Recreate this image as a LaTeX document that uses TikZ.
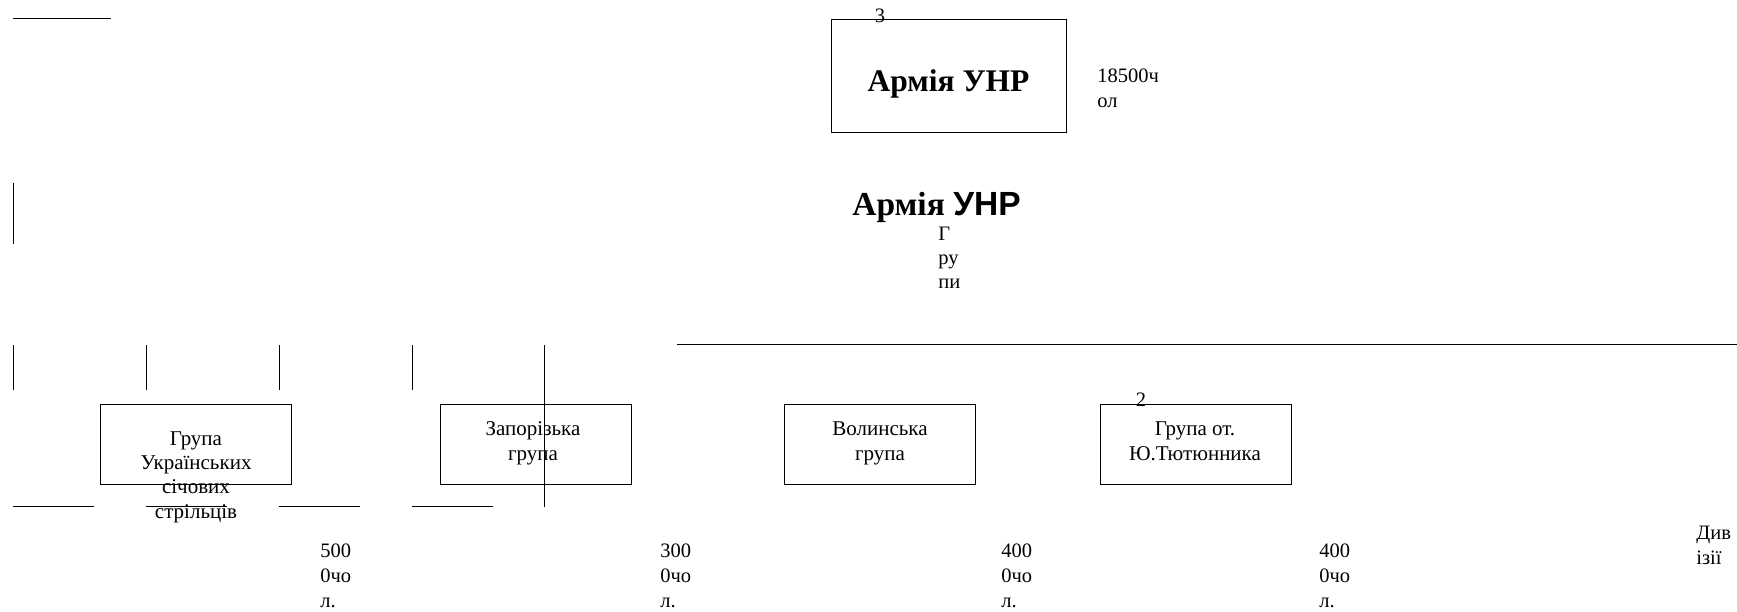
\documentclass[tikz,border=0pt]{standalone}
\usepackage{fontspec}
\setmainfont{Liberation Serif}
\newfontfamily\sansfnt{Liberation Sans}

\tikzset{
    grp/.style={draw, line width=0.8pt, minimum width=191pt, minimum height=80pt, inner sep=0pt},
    grptxt/.style={anchor=north, align=center, inner sep=0pt, font=\fontsize{21}{24.4}\selectfont},
    numtxt/.style={anchor=north west, align=left, inner sep=0pt, font=\fontsize{20.5}{25}\selectfont},
    plain/.style={inner sep=0pt, font=\fontsize{20.5}{24.4}\selectfont}
}

\begin{document}
\begin{tikzpicture}[x=1pt, y=-1pt, line width=0.8pt]
    \useasboundingbox (0,0) rectangle (1737,612);

    % Rysky i linii
    \draw (13,18) -- (111,18);
    \draw (13,183) -- (13,244);
    \draw (677,344) -- (1737,344);
    \foreach \x in {13,146,279,412} {
        \draw (\x,345) -- (\x,390);
        \draw (\x,506) -- (\x+81,506);
    }
    \draw (544,345) -- (544,507);

    % Verkhnii blok
    \node[draw, line width=0.8pt, minimum width=235pt, minimum height=113pt, inner sep=0pt] (armybox) at (948.5,75.5) {};
    \node[anchor=base, inner sep=0pt, font=\fontsize{31.5}{36}\selectfont\bfseries] (armytitle) at (948.5,92) {Армія УНР};
    \node[plain] (n3) at (880,16) {3};
    \node[numtxt, font=\fontsize{20.5}{25}\selectfont] (armynum) at (1097,68) {18500ч\\ол};

    % Druhyi zaholovok
    \node[anchor=base, inner sep=0pt, font=\fontsize{33.5}{38}\selectfont\bfseries] (title) at (936.5,216) {Армія {\sansfnt УНР}};
    \node[numtxt, font=\fontsize{20.5}{24}\selectfont] (grupy) at (938,226.5) {Г\\ру\\пи};

    % Hrupy
    \node[grp] (usc) at (195.5,444) {};
    \node[grp] (zap) at (536,444) {};
    \node[grp] (vol) at (879.5,444) {};
    \node[grp] (tut) at (1195.5,444) {};
    \node[grptxt] (usctxt) at (196,431) {Група\\Українських\\січових\\стрільців};
    \node[grptxt] (zaptxt) at (533,421.5) {Запорізька\\група};
    \node[grptxt] (voltxt) at (880,421.5) {Волинська\\група};
    \node[grptxt] (tuttxt) at (1195,421.5) {Група от.\\Ю.Тютюнника};
    \node[plain] (n2) at (1141,400) {2};

    % Chyselnist
    \node[numtxt] (uscnum) at (320,543) {500\\0чо\\л.};
    \node[numtxt] (zapnum) at (660,543) {300\\0чо\\л.};
    \node[numtxt] (volnum) at (1001,543) {400\\0чо\\л.};
    \node[numtxt] (tutnum) at (1319,543) {400\\0чо\\л.};
    \node[numtxt] (dyv) at (1696,526) {Див\\ізії};
\end{tikzpicture}
\end{document}
